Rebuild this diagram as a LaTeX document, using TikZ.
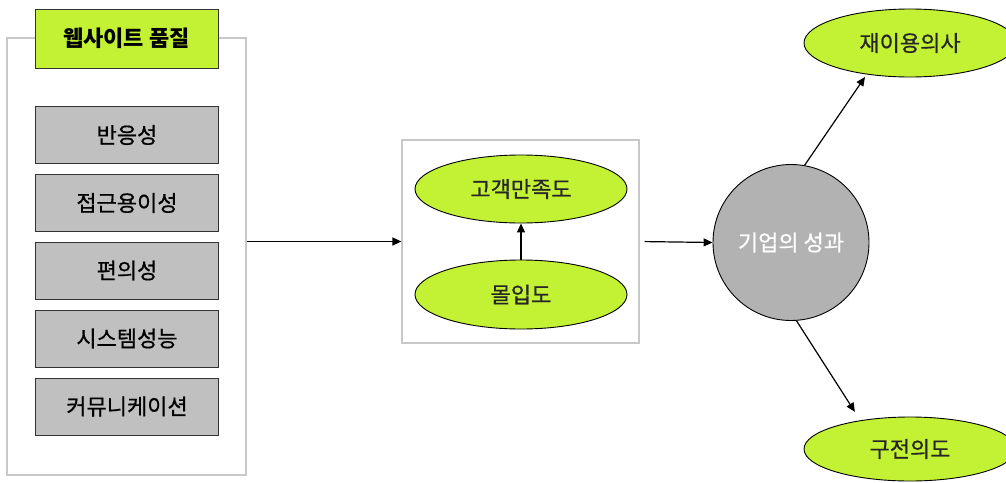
\documentclass[tikz,border=0pt]{standalone}
\usepackage{fontspec}
\newfontfamily\kr[FakeBold=0.6]{Noto Sans CJK KR}
\newfontfamily\krb{Noto Sans CJK KR}
\usetikzlibrary{shapes.geometric,arrows.meta}
\definecolor{lime}{HTML}{C3F235}
\definecolor{boxgray}{HTML}{C0C0C0}
\definecolor{circgray}{HTML}{B2B2B2}
\definecolor{framegray}{HTML}{C8C8C8}
\tikzset{
  every node/.style={font=\kr\fontsize{22}{26}\selectfont, inner sep=0pt},
  frame/.style={draw=framegray, line width=1.2pt, rectangle},
  titlebox/.style={draw=black!80, line width=1pt, fill=lime, rectangle, minimum width=183pt, minimum height=59pt, font=\krb\bfseries\fontsize{22}{26}\selectfont},
  itembox/.style={draw=black!80, line width=1pt, fill=boxgray, rectangle, minimum width=183pt, minimum height=57pt},
  oval/.style={draw=black, line width=0.9pt, fill=lime, ellipse, minimum width=212pt, text=black!85},
  perf/.style={draw=black, line width=0.9pt, fill=circgray, circle, minimum size=156pt, text=white},
  arr/.style={-{Triangle[length=9pt,width=8pt]}, line width=1.2pt, black}
}
\begin{document}
\begin{tikzpicture}[x=1pt,y=-1pt]
\useasboundingbox (0,0) rectangle (1006,482);
\node[frame, minimum width=239pt, minimum height=437pt] (outer) at (126.5,256.5) {};
\node[titlebox] (title) at (126.5,38.5) {웹사이트 품질};
\node[itembox] (b1) at (127,135) {반응성};
\node[itembox] (b2) at (127,203) {접근용이성};
\node[itembox] (b3) at (127,270.5) {편의성};
\node[itembox] (b4) at (127,338.5) {시스템성능};
\node[itembox] (b5) at (127,406.5) {커뮤니케이션};
\node[frame, minimum width=237pt, minimum height=203pt] (mid) at (520.5,241.5) {};
\node[oval, minimum height=68pt] (sat) at (521,189) {고객만족도};
\node[oval, minimum height=69pt] (flow) at (521,294.5) {몰입도};
\node[perf] (perf) at (791,242.5) {기업의 성과};
\node[oval, minimum height=68pt] (reuse) at (910,43) {재이용의사};
\node[oval, minimum height=64pt] (wom) at (910,449) {구전의도};
\draw[arr] (outer.east |- mid.west) -- (mid.west);
\draw[arr, shorten <=5pt] (mid.east) -- (perf.west);
\draw[arr] (flow.north) -- (sat.south);
\draw[arr, shorten >=3pt] (perf.80) -- (reuse.216);
\draw[arr, shorten >=10pt] (perf.274) -- (wom.150);
\end{tikzpicture}
\end{document}
